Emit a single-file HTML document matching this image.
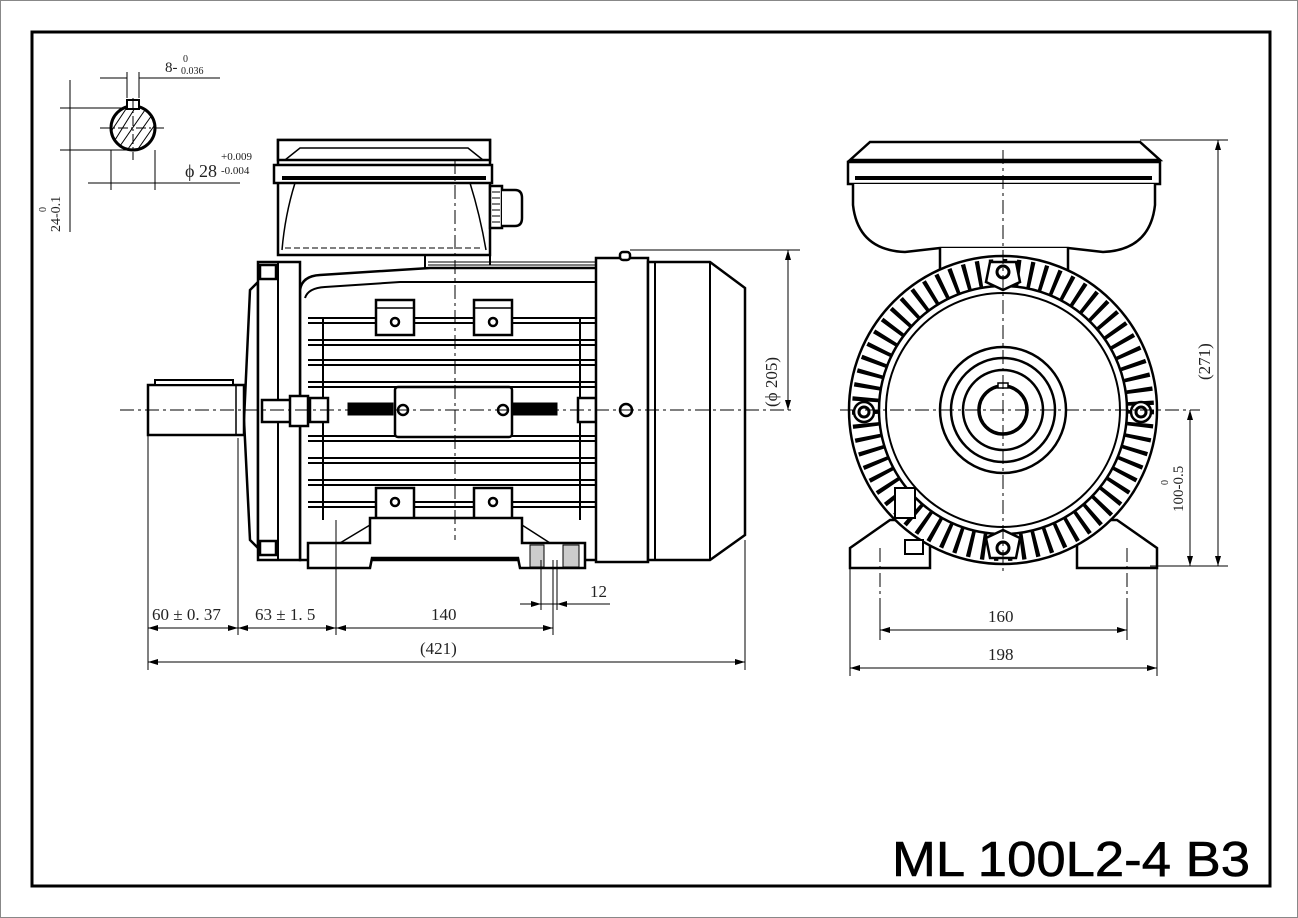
<!DOCTYPE html>
<html><head><meta charset="utf-8"><style>
html,body{margin:0;padding:0;background:#fff}
svg{display:block}
text{font-family:"Liberation Serif",serif;fill:#222}
text.title{font-family:"Liberation Sans",sans-serif;fill:#000}
</style></head><body>
<svg width="1298" height="918" viewBox="0 0 1298 918" xmlns="http://www.w3.org/2000/svg">
<rect x="0.5" y="0.5" width="1297" height="917" fill="#fff" stroke="#888" stroke-width="1"/>
<rect x="32" y="32" width="1238" height="854" fill="none" stroke="#000" stroke-width="3"/>

<!-- ===== top-left shaft section ===== -->
<g stroke="#000" fill="none">
<circle cx="133" cy="128" r="22" stroke-width="3" fill="#fff"/>
<path d="M115 140 L135 108 M112 130 L128 106 M120 146 L145 110 M128 149 L152 115 M138 149 L154 126" stroke-width="1"/>
<rect x="127" y="100" width="12" height="9" stroke-width="2" fill="#fff"/>
<line x1="133" y1="98" x2="133" y2="160" stroke-width="1" stroke-dasharray="10 3 2 3"/>
<line x1="100" y1="128" x2="165" y2="128" stroke-width="1" stroke-dasharray="10 3 2 3"/>
<g stroke-width="1">
<line x1="127" y1="72" x2="127" y2="98"/><line x1="139" y1="72" x2="139" y2="98"/>
<line x1="100" y1="78" x2="127" y2="78"/><line x1="139" y1="78" x2="220" y2="78"/>
<line x1="60" y1="108" x2="127" y2="108"/><line x1="60" y1="150" x2="133" y2="150"/>
<line x1="70" y1="80" x2="70" y2="232"/>
<line x1="111" y1="150" x2="111" y2="190"/><line x1="155" y1="150" x2="155" y2="190"/>
<line x1="88" y1="183" x2="240" y2="183"/>
</g>
</g>
<text x="165" y="72" font-size="15">8-</text>
<text x="183" y="62" font-size="10">0</text>
<text x="181" y="74" font-size="10">0.036</text>
<text x="185" y="177" font-size="18">ϕ 28</text>
<text x="221" y="160" font-size="11">+0.009</text>
<text x="221" y="174" font-size="11">-0.004</text>
<text transform="translate(60,232) rotate(-90)" font-size="14">24-0.1</text>
<text transform="translate(46,212) rotate(-90)" font-size="10">0</text>

<!-- ===== side view ===== -->
<g stroke="#000" fill="#fff" stroke-width="2.5">
<rect x="278" y="140" width="212" height="115"/>
<path d="M278 140 L490 140 L490 160 L278 160 Z"/>
<path d="M285 160 L300 148 L468 148 L483 160" fill="none" stroke-width="1.5"/>
<rect x="274" y="165" width="218" height="18"/>
<line x1="282" y1="178" x2="486" y2="178" stroke-width="4"/>
<path d="M295 183 Q285 215 282 250 M470 183 Q480 215 486 250" fill="none" stroke-width="1.5"/>
<line x1="285" y1="248" x2="482" y2="248" stroke-width="1" stroke-dasharray="6 3"/>
<rect x="490" y="186" width="12" height="42"/>
<path d="M502 190 L515 190 Q522 190 522 198 L522 218 Q522 226 515 226 L502 226"/>
<path d="M492 192 h8 M492 198 h8 M492 204 h8 M492 210 h8 M492 216 h8 M492 222 h8" stroke-width="1" fill="none"/>
<path d="M425 255 L425 268 L598 268 M490 255 L490 265" fill="none" stroke-width="2"/>
<path d="M428 262 h170 M428 265 h170" fill="none" stroke-width="1"/>
<path d="M300 560 L300 290 Q302 276 320 275 L430 268 L598 268 L598 560 Z"/>
<path d="M305 298 Q308 288 325 287 L400 282 L598 282" fill="none" stroke-width="2"/>
</g>
<g stroke="#000" stroke-width="2">
<line x1="308" y1="318" x2="596" y2="318"/><line x1="308" y1="323" x2="596" y2="323"/>
<line x1="308" y1="340" x2="596" y2="340"/><line x1="308" y1="345" x2="596" y2="345"/>
<line x1="308" y1="360" x2="596" y2="360"/><line x1="308" y1="365" x2="596" y2="365"/>
<line x1="308" y1="382" x2="596" y2="382"/><line x1="308" y1="387" x2="596" y2="387"/>
<line x1="308" y1="436" x2="596" y2="436"/><line x1="308" y1="441" x2="596" y2="441"/>
<line x1="308" y1="458" x2="596" y2="458"/><line x1="308" y1="463" x2="596" y2="463"/>
<line x1="308" y1="480" x2="596" y2="480"/><line x1="308" y1="485" x2="596" y2="485"/>
<line x1="308" y1="502" x2="596" y2="502"/><line x1="308" y1="507" x2="596" y2="507"/>
<line x1="323" y1="318" x2="323" y2="520"/><line x1="580" y1="318" x2="580" y2="520"/>
</g>
<g stroke="#000" fill="#fff" stroke-width="2.5">
<rect x="376" y="300" width="38" height="35"/><rect x="474" y="300" width="38" height="35"/>
<line x1="376" y1="308" x2="414" y2="308" stroke-width="1.5"/><line x1="474" y1="308" x2="512" y2="308" stroke-width="1.5"/>
<rect x="376" y="488" width="38" height="32"/><rect x="474" y="488" width="38" height="32"/>
<circle cx="395" cy="322" r="4"/><circle cx="493" cy="322" r="4"/>
<circle cx="395" cy="502" r="4"/><circle cx="493" cy="502" r="4"/>
<rect x="348" y="403" width="45" height="12" fill="#000" stroke-width="1"/>
<rect x="512" y="403" width="45" height="12" fill="#000" stroke-width="1"/>
<rect x="395" y="387" width="117" height="50" rx="3"/>
<circle cx="403" cy="410" r="5"/><circle cx="503" cy="410" r="5"/>
<rect x="310" y="398" width="18" height="24"/><rect x="578" y="398" width="18" height="24"/>
<path d="M308 568 L308 543 L370 543 L370 518 L522 518 L522 543 L585 543 L585 568 L520 568 L518 558 L372 558 L370 568 Z"/>
<path d="M340 543 L370 525 M522 525 L550 543" fill="none" stroke-width="1.5"/>
<rect x="530" y="545" width="14" height="22" fill="#ccc" stroke-width="1"/>
<rect x="563" y="545" width="16" height="22" fill="#ccc" stroke-width="1"/>
<path d="M258 282 L250 290 L244 420 L250 540 L258 548 Z"/>
<rect x="258" y="262" width="42" height="298"/>
<line x1="278" y1="262" x2="278" y2="560" stroke-width="2"/>
<rect x="260" y="265" width="16" height="14"/><rect x="260" y="541" width="16" height="14"/>
<rect x="262" y="400" width="36" height="22"/>
<rect x="290" y="396" width="18" height="30"/>
<rect x="148" y="385" width="96" height="50"/>
<rect x="155" y="380" width="78" height="5" stroke-width="2"/>
<line x1="236" y1="385" x2="236" y2="435" stroke-width="1.5"/>
<rect x="596" y="258" width="52" height="304"/>
<rect x="620" y="252" width="10" height="8" rx="3"/>
<path d="M648 262 L710 262 L745 288 L745 535 L710 560 L648 560 Z"/>
<line x1="655" y1="262" x2="655" y2="560" stroke-width="2"/>
<line x1="710" y1="262" x2="710" y2="560" stroke-width="2"/>
<circle cx="626" cy="410" r="6"/>
</g>
<g stroke="#000" stroke-width="1" stroke-dasharray="14 4 3 4">
<line x1="120" y1="410" x2="795" y2="410"/>
<line x1="455" y1="160" x2="455" y2="540"/>
</g>
<g stroke="#000" stroke-width="1" fill="none">
<line x1="148" y1="435" x2="148" y2="670"/>
<line x1="238" y1="438" x2="238" y2="635"/>
<line x1="336" y1="520" x2="336" y2="635"/>
<line x1="553" y1="560" x2="553" y2="635"/>
<line x1="745" y1="540" x2="745" y2="670"/>
<line x1="541" y1="560" x2="541" y2="610"/><line x1="557" y1="560" x2="557" y2="610"/>
<line x1="520" y1="604" x2="610" y2="604"/>
<line x1="148" y1="628" x2="553" y2="628"/>
<line x1="148" y1="662" x2="745" y2="662"/>
<line x1="630" y1="250" x2="800" y2="250"/>
<line x1="788" y1="250" x2="788" y2="410"/>
</g>
<g fill="#000">
<path d="M148 628 l10 -3 v6z M238 628 l-10 -3 v6z M238 628 l10 -3 v6z M336 628 l-10 -3 v6z M336 628 l10 -3 v6z M553 628 l-10 -3 v6z"/>
<path d="M148 662 l10 -3 v6z M745 662 l-10 -3 v6z"/>
<path d="M788 250 l-3 10 h6z M788 410 l-3 -10 h6z"/>
<path d="M541 604 l-10 -3 v6z M557 604 l10 -3 v6z"/>
</g>
<text x="152" y="620" font-size="17">60 ± 0. 37</text>
<text x="255" y="620" font-size="17">63 ± 1. 5</text>
<text x="431" y="620" font-size="17">140</text>
<text x="420" y="654" font-size="17">(421)</text>
<text x="590" y="597" font-size="17">12</text>
<text transform="translate(777,407) rotate(-90)" font-size="17">(ϕ 205)</text>

<!-- ===== front view ===== -->
<g stroke="#000" fill="#fff" stroke-width="2.5">
<path d="M850 160 L870 142 L1140 142 L1160 160 Z"/>
<rect x="848" y="162" width="312" height="22"/>
<line x1="855" y1="178" x2="1152" y2="178" stroke-width="4"/>
<path d="M853 184 L853 205 Q858 250 905 252 L940 248 L1068 248 L1103 252 Q1150 250 1155 205 L1155 184"/>
<path d="M940 248 L940 285 L1068 285 L1068 248"/>
<path d="M850 568 L850 548 L890 520 L930 520 L930 568 Z"/>
<path d="M1157 568 L1157 548 L1117 520 L1077 520 L1077 568 Z"/>
<circle cx="1003" cy="410" r="154"/>
</g>
<circle cx="1003" cy="410" r="138" fill="none" stroke="#000" stroke-width="26" stroke-dasharray="4 9"/>
<g stroke="#000" fill="#fff" stroke-width="2.5">
<circle cx="1003" cy="410" r="124"/>
<circle cx="1003" cy="410" r="117" stroke-width="2"/>
<circle cx="1003" cy="410" r="63"/>
<circle cx="1003" cy="410" r="52"/>
<circle cx="1003" cy="410" r="40"/>
<circle cx="1003" cy="410" r="24" stroke-width="3.5"/>
<rect x="998" y="383" width="10" height="5" stroke-width="1.5"/>
<path d="M990 262 L1016 262 L1020 282 L1003 290 L986 282 Z"/>
<path d="M990 558 L1016 558 L1020 538 L1003 530 L986 538 Z"/>
<circle cx="1003" cy="272" r="6" stroke-width="3"/>
<circle cx="1003" cy="548" r="6" stroke-width="3"/>
<circle cx="864" cy="412" r="10"/><circle cx="864" cy="412" r="5" stroke-width="3"/>
<circle cx="1141" cy="412" r="10"/><circle cx="1141" cy="412" r="5" stroke-width="3"/>
<rect x="895" y="488" width="20" height="30" stroke-width="2"/>
<rect x="905" y="540" width="18" height="14" stroke-width="2"/>
</g>
<g stroke="#000" stroke-width="1" stroke-dasharray="14 4 3 4">
<line x1="840" y1="410" x2="1200" y2="410"/>
<line x1="1003" y1="150" x2="1003" y2="572"/>
<line x1="880" y1="548" x2="880" y2="600"/><line x1="1127" y1="548" x2="1127" y2="600"/>
</g>
<g stroke="#000" stroke-width="1" fill="none">
<line x1="880" y1="600" x2="880" y2="640"/><line x1="1127" y1="600" x2="1127" y2="640"/>
<line x1="850" y1="568" x2="850" y2="676"/><line x1="1157" y1="568" x2="1157" y2="676"/>
<line x1="880" y1="630" x2="1127" y2="630"/>
<line x1="850" y1="668" x2="1157" y2="668"/>
<line x1="1140" y1="140" x2="1228" y2="140"/>
<line x1="1150" y1="566" x2="1228" y2="566"/>
<line x1="1218" y1="140" x2="1218" y2="566"/>
<line x1="1190" y1="410" x2="1190" y2="566"/>
</g>
<g fill="#000">
<path d="M880 630 l10 -3 v6z M1127 630 l-10 -3 v6z M850 668 l10 -3 v6z M1157 668 l-10 -3 v6z"/>
<path d="M1218 140 l-3 10 h6z M1218 566 l-3 -10 h6z M1190 410 l-3 10 h6z M1190 566 l-3 -10 h6z"/>
</g>
<text x="988" y="622" font-size="17">160</text>
<text x="988" y="660" font-size="17">198</text>
<text transform="translate(1210,380) rotate(-90)" font-size="17">(271)</text>
<text transform="translate(1183,512) rotate(-90)" font-size="15">100-0.5</text>
<text transform="translate(1168,485) rotate(-90)" font-size="10">0</text>

<text class="title" x="892" y="876" font-size="49" stroke="#000" stroke-width="0.6" textLength="358" lengthAdjust="spacingAndGlyphs">ML 100L2-4 B3</text>
</svg>
</body></html>
